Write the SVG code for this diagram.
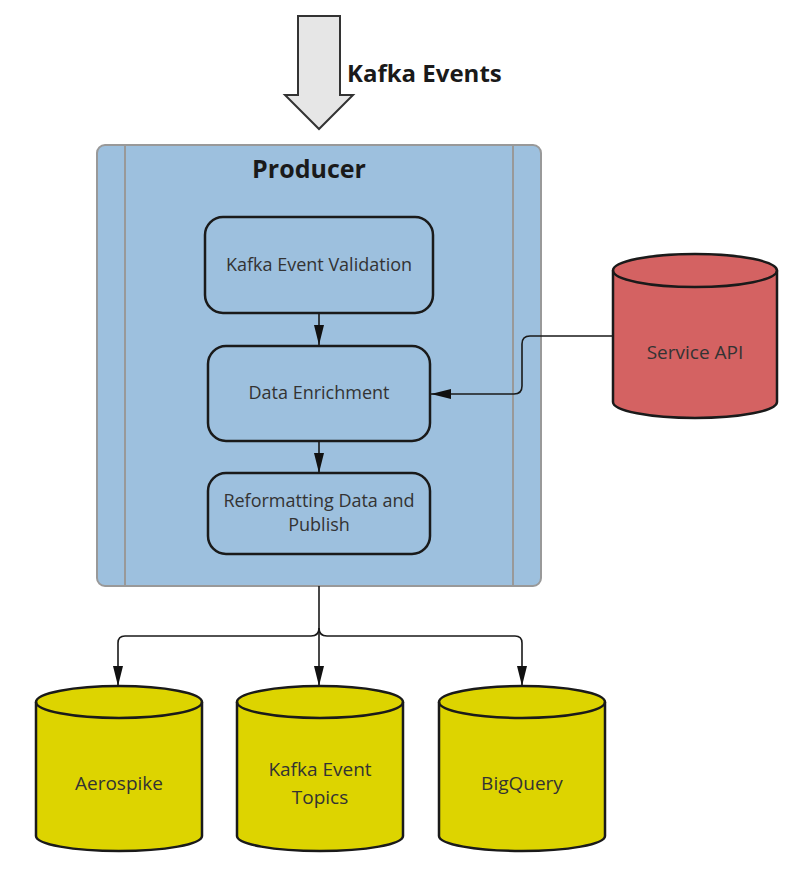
<svg xmlns="http://www.w3.org/2000/svg" width="800" height="873" viewBox="0 0 800 873">
<defs>
<style>
.box{fill:#9dc0de;stroke:#1a1a1a;stroke-width:2.5}
.cyl{stroke:#1a1a1a;stroke-width:2.5}
.t{font-family:"Open Sans","Liberation Sans",sans-serif;fill:#333;text-anchor:middle}
.conn{fill:none;stroke:#1a1a1a;stroke-width:1.6}
</style>
<marker id="ah" viewBox="0 0 20 10" refX="20" refY="5" markerWidth="20" markerHeight="10" markerUnits="userSpaceOnUse" orient="auto">
<path d="M0,0 L20,5 L0,10 Z" fill="#111"/>
</marker>
</defs>
<rect width="800" height="873" fill="#fff"/>
<g id="kafka-events">
<path d="M298,16 H340 V95 H353 L319,129 L285,95 H298 Z" fill="#e6e6e6" stroke="#333" stroke-width="2"/>
<text x="347" y="82" font-family="'Open Sans','Liberation Sans',sans-serif" font-weight="bold" font-size="24" fill="#1a1a1a">Kafka Events</text>
</g>
<g id="producer">
<rect x="97" y="145" width="444" height="441" rx="8" fill="#9dc0de" stroke="#999" stroke-width="2"/>
<line x1="125" y1="145" x2="125" y2="586" stroke="#999" stroke-width="2"/>
<line x1="513" y1="145" x2="513" y2="586" stroke="#999" stroke-width="2"/>
<text x="309" y="178" font-family="'Open Sans','Liberation Sans',sans-serif" font-weight="bold" font-size="25" fill="#1a1a1a" text-anchor="middle">Producer</text>
</g>
<g id="validation">
<rect class="box" x="205" y="217" width="228" height="96" rx="18"/>
<text class="t" x="319" y="271" font-size="18">Kafka Event Validation</text>
</g>
<g id="enrichment">
<rect class="box" x="208" y="346" width="222" height="95" rx="18"/>
<text class="t" x="319" y="399" font-size="18">Data Enrichment</text>
</g>
<g id="reformatting">
<rect class="box" x="208" y="473" width="222" height="81" rx="18"/>
<text class="t" x="319" y="507" font-size="18">Reformatting Data and</text>
<text class="t" x="319" y="531" font-size="18">Publish</text>
</g>
<g id="service-api">
<path class="cyl" fill="#d46262" d="M613,270.5 A82,16.5 0 0 1 777,270.5 V402 A82,16 0 0 1 613,402 Z"/>
<path class="cyl" fill="none" d="M613,270.5 A82,16.5 0 0 0 777,270.5"/>
<text class="t" x="695" y="359" font-size="19">Service API</text>
</g>
<g id="aerospike">
<path class="cyl" fill="#ddd400" d="M36,702 A83,16 0 0 1 202,702 V836 A83,15 0 0 1 36,836 Z"/>
<path class="cyl" fill="none" d="M36,702 A83,16 0 0 0 202,702"/>
<text class="t" x="119" y="790" font-size="19">Aerospike</text>
</g>
<g id="kafka-topics">
<path class="cyl" fill="#ddd400" d="M237,702 A83,16 0 0 1 403,702 V836 A83,15 0 0 1 237,836 Z"/>
<path class="cyl" fill="none" d="M237,702 A83,16 0 0 0 403,702"/>
<text class="t" x="320" y="776" font-size="19">Kafka Event</text>
<text class="t" x="320" y="804" font-size="19">Topics</text>
</g>
<g id="bigquery">
<path class="cyl" fill="#ddd400" d="M439,702 A83,16 0 0 1 605,702 V836 A83,15 0 0 1 439,836 Z"/>
<path class="cyl" fill="none" d="M439,702 A83,16 0 0 0 605,702"/>
<text class="t" x="522" y="790" font-size="19">BigQuery</text>
</g>
<g id="connectors">
<path class="conn" d="M319,313 V345" marker-end="url(#ah)"/>
<path class="conn" d="M319,441 V473" marker-end="url(#ah)"/>
<path class="conn" d="M612,336 H530 Q522,336 522,344 V386 Q522,394 514,394 H431" marker-end="url(#ah)"/>
<path class="conn" d="M319,586 V686" marker-end="url(#ah)"/>
<path class="conn" d="M319,628 Q319,636 311,636 H125 Q118,636 118,643 V686" marker-end="url(#ah)"/>
<path class="conn" d="M319,628 Q319,636 327,636 H515 Q522,636 522,643 V686" marker-end="url(#ah)"/>
</g>
</svg>
